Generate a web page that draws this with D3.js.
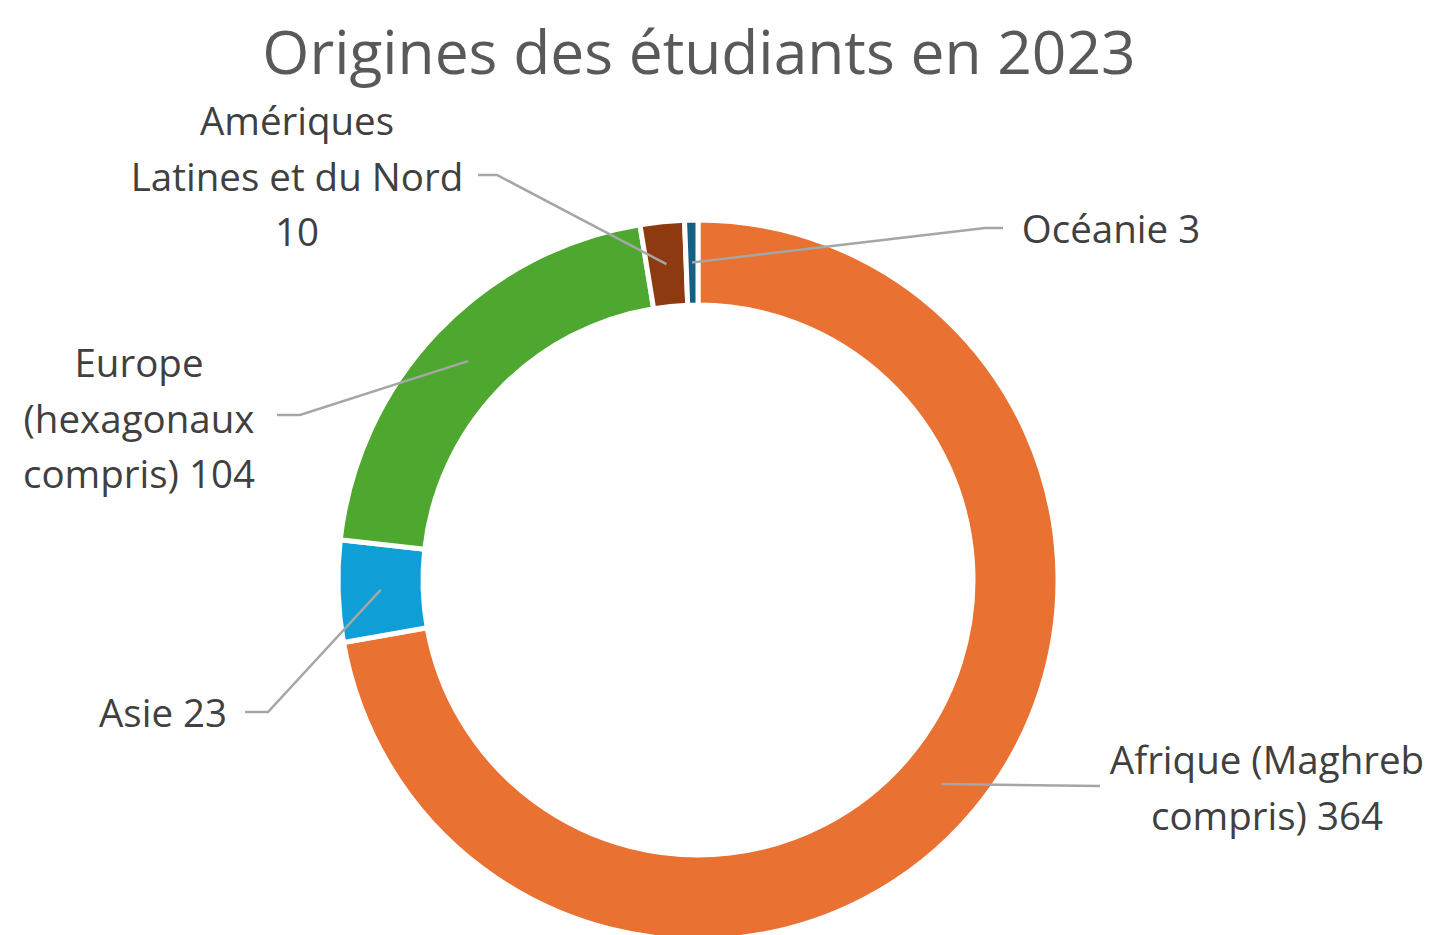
<!DOCTYPE html>
<html><head><meta charset="utf-8">
<script src="https://cdn.jsdelivr.net/npm/d3@7"></script>
<style>html,body{margin:0;padding:0;background:#fff;overflow:hidden}</style>
</head><body>
<svg id="chart" width="1429" height="935"></svg>
<script>
const categories = ["Afrique (Maghreb compris)", "Asie", "Europe (hexagonaux compris)", "Amériques Latines et du Nord", "Océanie"];
const values = [364, 23, 104, 10, 3];
const colors = ["#E97132", "#0F9ED5", "#4EA72E", "#8E3A10", "#156082"];
const labelLines = [
  ["Afrique (Maghreb", "compris) 364"],
  ["Asie 23"],
  ["Europe", "(hexagonaux", "compris) 104"],
  ["Amériques", "Latines et du Nord", "10"],
  ["Océanie 3"]
];
const title = "Origines des étudiants en 2023";

// layout (positions only)
const cx = 698, cy = 580, R = 360, r = 275;
const labelPos = [
  {x: 1267, y: 759, anchor: "middle", lx: 1100, ly: 786, elbow: null},
  {x: 163, y: 712, anchor: "middle", lx: 245, ly: 712, elbow: 268},
  {x: 139, y: 362, anchor: "middle", lx: 277, ly: 415, elbow: 300},
  {x: 297, y: 120, anchor: "middle", lx: 478, ly: 175, elbow: 497},
  {x: 1111, y: 228, anchor: "middle", lx: 1003, ly: 228, elbow: 985}
];
const lineH = 55.5;

const svg = d3.select("#chart");
const font = "'Open Sans', 'Noto Sans', sans-serif";

svg.append("text").attr("x", 699).attr("y", 50)
  .attr("text-anchor", "middle").attr("dominant-baseline", "central")
  .attr("font-family", font).attr("font-size", 60.5).attr("fill", "#595959")
  .text(title);

const pie = d3.pie().sort(null).value(d => d)(values);
const arc = d3.arc().innerRadius(r).outerRadius(R);
const g = svg.append("g").attr("transform", `translate(${cx},${cy})`);

g.selectAll("path").data(pie).join("path")
  .attr("d", arc)
  .attr("fill", (d, i) => colors[i])
  .attr("stroke", "#fff").attr("stroke-width", 5).attr("stroke-linejoin", "miter");

// leader lines
pie.forEach((d, i) => {
  const c = arc.centroid(d);
  const px = cx + c[0], py = cy + c[1];
  const p = labelPos[i];
  const pts = [[p.lx, p.ly]];
  if (p.elbow !== null) pts.push([p.elbow, p.ly]);
  pts.push([px, py]);
  svg.append("path").attr("d", d3.line()(pts))
    .attr("fill", "none").attr("stroke", "#A6A6A6").attr("stroke-width", 2.5);
});

// labels
labelLines.forEach((lines, i) => {
  const p = labelPos[i];
  const t = svg.append("text").attr("font-family", font).attr("font-size", 38.5)
    .attr("fill", "#404040").attr("text-anchor", p.anchor);
  lines.forEach((ln, k) => {
    t.append("tspan").attr("x", p.x).attr("y", p.y + k * lineH)
      .attr("dominant-baseline", "central").text(ln);
  });
});
</script>
</body></html>
